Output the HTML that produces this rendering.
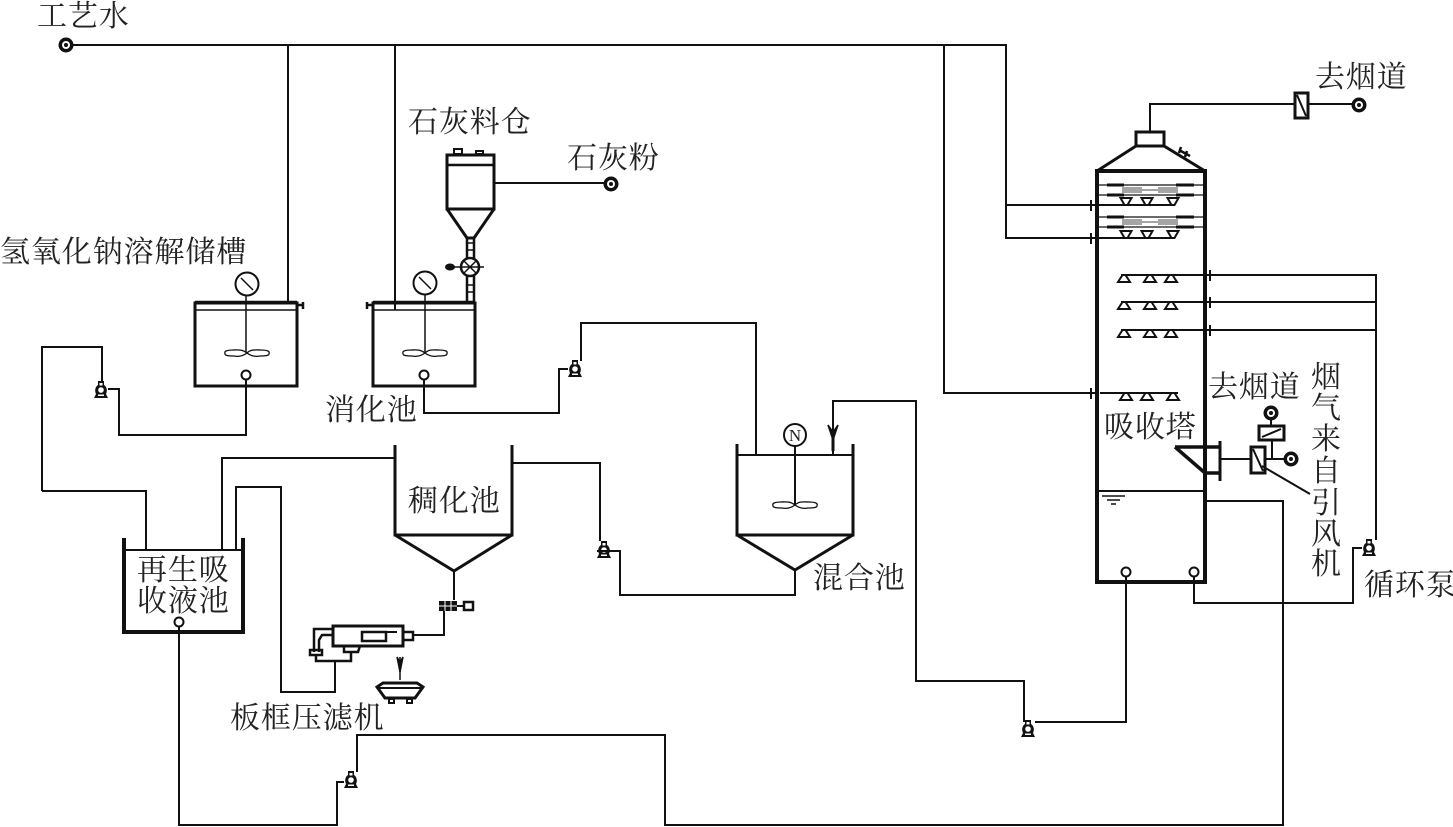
<!DOCTYPE html>
<html><head><meta charset="utf-8"><style>
html,body{margin:0;padding:0;background:#fff;width:1453px;height:827px;overflow:hidden}
svg{display:block}
text{font-family:"Liberation Serif","Noto Serif CJK SC","Noto Sans CJK SC",serif;font-size:30px;fill:#222;letter-spacing:.9px}
</style></head><body>
<svg width="1453" height="827" viewBox="0 0 1453 827" fill="none" stroke="#111" stroke-width="2">
<defs>
<g id="pump"><path d="M-7 8H7L5 4C7 0 5 -4 3 -5V-9H-3V-5C-5 -4 -7 0 -5 4Z" fill="#111" stroke="none"/><circle cx="0" cy="0" r="2.800" fill="#fff" stroke="none"/><rect x="-1.500" y="-7" width="3" height="2.500" fill="#fff" stroke="none"/><rect x="-3" y="4.500" width="6" height="1.500" fill="#fff" stroke="none"/></g>
<g id="port"><circle r="7.500" fill="#111" stroke="none"/><circle r="4" fill="#fff" stroke="none"/><circle r="2" fill="#111" stroke="none"/></g>
<g id="sd"><path d="M-6 0 L6 0 L1.500 -7 L-1.500 -7 Z" fill="#fff" stroke-width="2"/></g>
<g id="su"><path d="M-5.500 -7 L5.500 -7 L1.500 0 L-1.500 0 Z" fill="#fff" stroke-width="2"/></g>
<g id="blades"><path d="M0 0 C-5 -4 -10 -3 -14 -3 C-19 -3 -23 -2 -22 0 C-23 3 -17 3 -13 3 C-8 4 -4 3 0 0 C4 -4 9 -3 14 -3 C19 -3 23 -2 22 0 C23 3 17 3 13 3 C8 4 4 3 0 0 Z" fill="#fff" stroke-width="1.300"/></g>
<g id="gauge"><circle r="11.500" fill="#fff" stroke-width="2"/><path d="M-6 -6 L6 6" stroke-width="1.500"/></g>
<g id="pack"><path d="M1099 0H1204M1099 10H1204" stroke-width="1.200"/><path d="M1107 0H1124M1176 0H1194M1107 10H1124M1176 10H1194" stroke-width="3"/><path d="M1122 3H1142M1122 5H1142M1122 7H1142M1158 3H1178M1158 5H1178M1158 7H1178M1142 5H1158" stroke-width=".8"/></g>
</defs>

<!-- process water -->
<path d="M66 45H1006V238H1097M1006 205H1097M288 45V303M395 45V310M944 45V393H1097"/>
<path d="M1091 200V211M1091 233V244M1091 388V399" stroke-width="2"/>
<use href="#port" x="66" y="45"/>

<!-- tower -->
<path d="M1097 582V171H1205V582Z" stroke-width="4"/>
<path d="M1097 171L1136 146H1164L1205 171" stroke-width="3"/>
<rect x="1136" y="132" width="28" height="14" stroke-width="3"/>
<path d="M1150 132V104H1294M1308 104H1359"/>
<rect x="1295" y="93" width="13" height="25" stroke-width="3"/><path d="M1297 95L1306 116"/>
<use href="#port" x="1359" y="105"/>
<path d="M1179 150L1190 156M1181 147L1179 153M1187 151L1185 157" stroke-width="2.500"/>
<use href="#pack" y="185"/><use href="#pack" y="217"/>
<path d="M1092 205H1175M1092 238H1175" stroke-width="2"/>
<use href="#su" x="1126" y="205"/><use href="#su" x="1147" y="205"/><use href="#su" x="1173" y="205"/>
<use href="#su" x="1126" y="238"/><use href="#su" x="1147" y="238"/><use href="#su" x="1173" y="238"/>
<path d="M1121 275H1376V540M1121 302H1376M1121 330H1376M1100 393H1178"/>
<path d="M1210 270V281M1210 297V308M1210 325V336"/>
<g transform="translate(0,282)"><use href="#sd" x="1124"/><use href="#sd" x="1150"/><use href="#sd" x="1171"/></g>
<g transform="translate(0,309)"><use href="#sd" x="1124"/><use href="#sd" x="1150"/><use href="#sd" x="1171"/></g>
<g transform="translate(0,337)"><use href="#sd" x="1124"/><use href="#sd" x="1150"/><use href="#sd" x="1171"/></g>
<g transform="translate(0,400)"><use href="#sd" x="1126"/><use href="#sd" x="1147"/><use href="#sd" x="1173"/></g>
<path d="M1098 491H1205"/>
<path d="M1102 496H1125" stroke-width="1.500"/><path d="M1107 500H1120" stroke-width="1.500"/><path d="M1111 504H1116" stroke-width="1.500"/>
<circle cx="1126" cy="572" r="4.500" fill="#fff"/><circle cx="1194" cy="572" r="4.500" fill="#fff"/>

<!-- inlet -->
<path d="M1175 447H1220M1175 447L1205 473H1220" stroke-width="3.500"/>
<path d="M1220 441V481" stroke-width="3"/>
<path d="M1220 459H1250M1265 459H1291M1272 459V440M1271 426V417"/>
<rect x="1251" y="447" width="14" height="26" stroke-width="3"/><path d="M1253 449L1263 471"/>
<rect x="1259" y="426" width="25" height="14" stroke-width="3"/><path d="M1262 437L1281 429"/>
<use href="#port" x="1271" y="413"/><use href="#port" x="1291" y="459"/>
<path d="M1262 466L1310 494"/>

<!-- tower pipes -->
<path d="M1194 577V603H1353V548H1362"/>
<use href="#pump" x="1369" y="548"/>
<path d="M1126 577V722H1035"/>
<use href="#pump" x="1028" y="729"/>
<path d="M1024 722V681H916V401H833V455"/>
<path d="M828 425L833 440L838 425L833 432Z" fill="#111" stroke-width="1.500"/><path d="M833 430V451" stroke-width="3"/>
<path d="M1205 501H1283V825H665V735H357V772"/>
<use href="#pump" x="351" y="780"/>
<path d="M344 782H337V825H179V626"/>
<circle cx="179" cy="622" r="4.500" fill="#fff"/>

<!-- regen tank -->
<path d="M124 538V632H243V538" stroke-width="4"/>
<path d="M125 550H242" stroke-width="2"/>
<path d="M42 491V347H102V382M42 491H146V550M222 550V458H395M236 550V487H281V692H335V662"/>
<use href="#pump" x="101" y="390"/>
<path d="M108 389H119V435H246V380"/>

<!-- tank 1 -->
<path d="M195 303H297V386H195Z" stroke-width="3"/><path d="M195 310H297" stroke-width="1.500"/>
<path d="M195 302.500H297" stroke-width="3.500"/>
<path d="M297 305H303M303 302V309" stroke-width="2.500"/>
<path d="M246 295V353" stroke-width="1.500"/>
<use href="#gauge" x="247" y="284"/>
<use href="#blades" x="247" y="353"/>
<circle cx="246" cy="375" r="4.500" fill="#fff"/>

<!-- tank 2 -->
<path d="M373 303H475V386H373Z" stroke-width="3"/><path d="M373 310H475" stroke-width="1.500"/>
<path d="M373 302.500H475" stroke-width="3.500"/>
<path d="M373 305H367M367 302V309" stroke-width="2.500"/>
<path d="M425 295V353" stroke-width="1.500"/>
<use href="#gauge" x="425" y="283"/>
<use href="#blades" x="425" y="353"/>
<circle cx="424" cy="375" r="4.500" fill="#fff"/>
<path d="M424 380V413H559V369H568"/>
<use href="#pump" x="575" y="369"/>
<path d="M581 361V323H756V455"/>

<!-- silo -->
<rect x="447" y="155" width="47" height="54" stroke-width="3"/>
<path d="M447 165H494" stroke-width="2.500"/>
<path d="M447 209L467 238H474L494 209" stroke-width="3"/>
<path d="M454 149H462V154H454ZM476 151H483V154H476Z" stroke-width="2"/>
<path d="M467 238V302M474 238V302" stroke-width="2.500"/>
<path d="M467 243H474M467 250H474M467 285H474M467 292H474" stroke-width="1.500"/>
<path d="M494 183H605"/>
<use href="#port" x="611" y="184"/>
<circle cx="470" cy="267" r="9" fill="#fff" stroke-width="2.500"/>
<path d="M464 261L476 273M476 261L464 273M450 267H484" stroke-width="1.500"/>
<ellipse cx="450" cy="267" rx="5" ry="3.500" fill="#111" stroke="none"/>

<!-- thickener -->
<path d="M395 445V535H512V445" stroke-width="3"/>
<path d="M395 535L454 571L512 535" stroke-width="3"/>
<path d="M512 463H600V541"/>
<use href="#pump" x="604" y="550"/>
<path d="M597 551H620V595H795V571"/>
<path d="M454 571V600"/>
<rect x="439" y="601" width="18" height="10" fill="#111" stroke="none"/>
<path d="M445 601V611M451 601V611M439 606H457" stroke="#fff" stroke-width="1"/>
<path d="M457 606H464"/><rect x="464" y="602" width="9" height="8" stroke-width="2.500"/>
<path d="M444 611V635H413"/>

<!-- filter press -->
<path d="M333 626H403V646H333Z" stroke-width="3"/>
<rect x="362" y="632" width="24" height="9" stroke-width="2.500"/>
<path d="M386 632H397" stroke-width="2"/>
<rect x="403" y="632" width="10" height="8" stroke-width="2.500"/>
<path d="M333 629H314V652M333 635H322L319 640V652" stroke-width="2.500"/>
<rect x="310" y="650" width="12" height="5" stroke-width="2.500"/>
<path d="M344 646V652H358L360 646" stroke-width="2.500"/>
<path d="M316 655V661H351V652" stroke-width="2.500"/>
<path d="M400 657V680" stroke-width="1.500"/><path d="M397 657L400 672L403 657L400 662Z" fill="#111" stroke-width="1.500"/>
<path d="M377 687L383 683H417L423 687L415 698H385Z" stroke-width="3"/><path d="M379 688H421" stroke-width="2"/>
<rect x="389" y="699" width="5" height="4" stroke-width="2"/><rect x="407" y="699" width="5" height="4" stroke-width="2"/>

<!-- mix tank -->
<path d="M737 444V535H853V444" stroke-width="3"/>
<path d="M737 535L795 570L853 535" stroke-width="3"/>
<path d="M738 455H852" stroke-width="2"/>
<path d="M795 446V505" stroke-width="2"/>
<circle cx="795" cy="435" r="11" fill="#fff" stroke-width="2"/>
<use href="#blades" x="795" y="505"/>

<g stroke="none">
<text x="795" y="441" text-anchor="middle" style="font-size:17px;letter-spacing:0">N</text>
<text x="37" y="26">工艺水</text>
<text x="1315" y="87">去烟道</text>
<text x="408" y="132">石灰料仓</text>
<text x="567" y="168">石灰粉</text>
<text x="0" y="262">氢氧化钠溶解储槽</text>
<text x="325" y="420">消化池</text>
<text x="408" y="511">稠化池</text>
<text x="813" y="588">混合池</text>
<text x="137" y="580">再生吸</text>
<text x="137" y="611">收液池</text>
<text x="230" y="728">板框压滤机</text>
<text x="1104" y="437">吸收塔</text>
<text x="1208" y="397">去烟道</text>
<text x="1311" y="387">烟</text>
<text x="1311" y="418">气</text>
<text x="1311" y="449">来</text>
<text x="1311" y="481">自</text>
<text x="1311" y="513">引</text>
<text x="1311" y="544">风</text>
<text x="1311" y="574">机</text>
<text x="1364" y="595">循环泵</text>
</g>
</svg>
</body></html>
